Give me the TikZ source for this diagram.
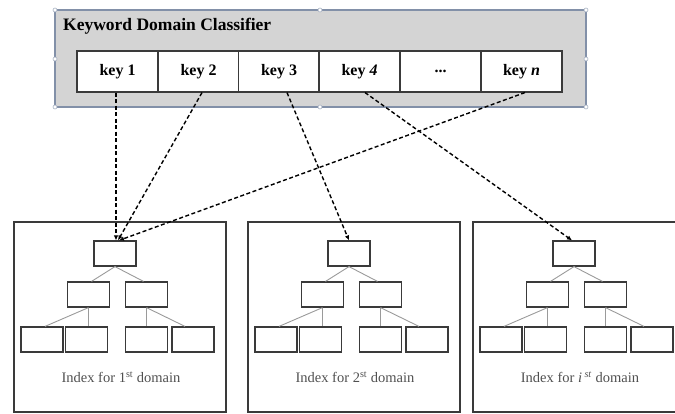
\documentclass[tikz,border=0pt]{standalone}
\usepackage{fontspec}
\setmainfont{Liberation Serif}
\usetikzlibrary{arrows.meta}
\definecolor{panelgray}{HTML}{D4D4D4}
\definecolor{selblue}{HTML}{8290A8}
\definecolor{boxline}{HTML}{3A3A3A}
\definecolor{linkgray}{HTML}{9A9A9A}
\definecolor{labelgray}{HTML}{505050}
\tikzset{
  panel/.style={draw=selblue, line width=1.3pt, fill=panelgray},
  handle/.style={circle, draw=selblue!70, fill=white, line width=0.6pt, inner sep=0pt, minimum size=4pt},
  keycell/.style={draw=boxline, line width=1.1pt, fill=white, minimum width=81pt, minimum height=41pt, inner sep=0pt, font=\fontsize{16}{18}\selectfont\bfseries},
  domainbox/.style={draw=boxline, line width=1.3pt},
  treebox/.style={draw=boxline, line width=1.2pt, minimum width=42pt, minimum height=25pt, inner sep=0pt},
  treelink/.style={draw=linkgray, line width=0.9pt},
  keyarrow/.style={dashed, line width=1.4pt, dash pattern=on 4pt off 2.5pt, -{Latex[length=5pt,width=4.5pt]}},
  idxlabel/.style={text=labelgray, font=\fontsize{14.5}{16}\selectfont, inner sep=0pt}
}
\begin{document}
\begin{tikzpicture}[x=1pt,y=-1pt]
\useasboundingbox (0,0) rectangle (675,413);
% classifier panel
\draw[panel] (55,10) rectangle (586,107);
\foreach \hx/\hy in {55/10,320/10,586/10,55/59,586/59,55/107,320/107,586/107}
  \node[handle] at (\hx,\hy) {};
\node[anchor=west, inner sep=0pt, font=\fontsize{17.5}{19}\selectfont\bfseries] (title) at (63,26) {Keyword Domain Classifier};
\node[keycell] (k1) at (117.5,71.5) {key 1};
\node[keycell] (k2) at (198.5,71.5) {key 2};
\node[keycell] (k3) at (279,71.5) {key 3};
\node[keycell] (k4) at (359.5,71.5) {key \textit{4}};
\node[keycell] (k5) at (440.5,71.5) {...};
\node[keycell] (kn) at (521.5,71.5) {key \textit{n}};
% domain boxes
\draw[domainbox] (14,222) -- (14,412) -- (226,412) -- (226,222) -- cycle;
\draw[domainbox] (248,222) -- (248,412) -- (460,412) -- (460,222) -- cycle;
\draw[domainbox] (473,222) -- (473,412) -- (685,412) -- (685,222) -- cycle;
% trees
\foreach \L/\p in {14/a,248/b,473/c}{
  \node[treebox] (\p r) at (\L+101,253.5) {};
  \node[treebox] (\p l) at (\L+74.5,294.5) {};
  \node[treebox] (\p m) at (\L+132.5,294.5) {};
  \node[treebox] (\p 1) at (\L+28,339.5) {};
  \node[treebox] (\p 2) at (\L+72.5,339.5) {};
  \node[treebox] (\p 3) at (\L+132.5,339.5) {};
  \node[treebox] (\p 4) at (\L+179,339.5) {};
  \draw[treelink] (\p r.south) -- ([xshift=3pt]\p l.north);
  \draw[treelink] (\p r.south) -- ([xshift=-3pt]\p m.north);
  \draw[treelink] (\p l.south) -- ([xshift=3pt]\p 1.north);
  \draw[treelink] (\p l.south) -- ([xshift=2pt]\p 2.north);
  \draw[treelink] (\p m.south) -- (\p 3.north);
  \draw[treelink] (\p m.south) -- ([xshift=-8pt]\p 4.north);
}
\node[idxlabel] (la) at (121,377) {Index for 1\textsuperscript{st} domain};
\node[idxlabel] (lb) at (355,377) {Index for 2\textsuperscript{st} domain};
\node[idxlabel] (lc) at (580,377) {Index for \textit{i}\,\textsuperscript{\textit{st}} domain};
% arrows
\draw[keyarrow] ([xshift=-1.5pt]k1.south) -- ([xshift=1pt]ar.north);
\draw[keyarrow] ([xshift=3.5pt]k2.south) -- ([xshift=3pt]ar.north);
\draw[keyarrow] ([xshift=3.5pt]kn.south) -- ([xshift=4pt]ar.north);
\draw[keyarrow] ([xshift=8pt]k3.south) -- (br.north);
\draw[keyarrow] ([xshift=5.5pt]k4.south) -- ([xshift=-2pt]cr.north);
\end{tikzpicture}
\end{document}
